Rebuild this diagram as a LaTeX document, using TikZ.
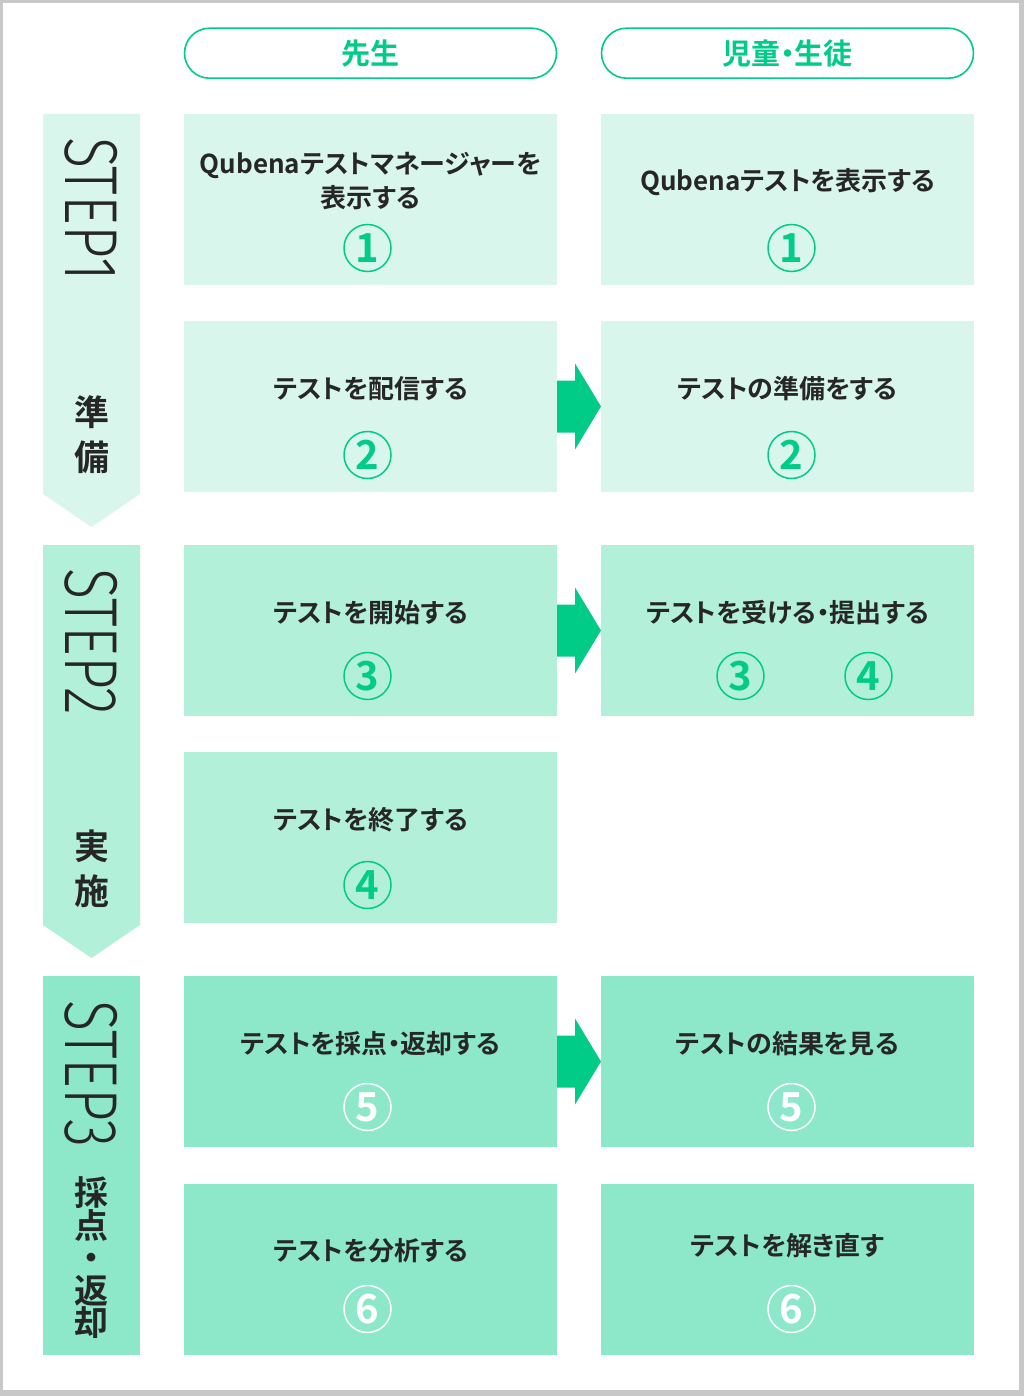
\documentclass[tikz,border=0pt]{standalone}
\usepackage{fontspec}
\usetikzlibrary{positioning}
\newfontfamily\jpfont{Noto Sans CJK JP}[UprightFont=* Bold, RawFeature=+palt]
\newfontfamily\stepfont{Fira Sans Light}
\definecolor{mint}{HTML}{00CC88}
\definecolor{tone1}{HTML}{D9F6EC}
\definecolor{tone2}{HTML}{B3F0DA}
\definecolor{tone3}{HTML}{8DE8C9}
\definecolor{ink}{HTML}{262626}
\definecolor{framegray}{HTML}{C8C8C8}
\tikzstyle{flow} = [
    fill=mint
]

\begin{document}
\begin{tikzpicture}[
    x=1pt, y=-1pt,
    box/.style={
        rectangle,
        minimum width=373pt,
        minimum height=171pt,
        inner sep=0pt,
        outer sep=0pt
    },
    head/.style={
        rectangle,
        rounded corners=25pt,
        draw=mint,
        line width=1.6pt,
        fill=white,
        minimum width=372pt,
        minimum height=50pt,
        text=mint,
        font=\jpfont\fontsize{29}{29}\selectfont
    },
    title/.style={align=center, text=ink, font=\jpfont\fontsize{26}{34}\selectfont},
    num/.style={
        circle,
        draw=#1,
        text=#1,
        line width=1.5pt,
        minimum size=47pt,
        inner sep=0pt,
        font=\jpfont\fontsize{40}{40}\selectfont
    },
    num/.default=mint,
    steplabel/.style={rotate=-90, anchor=west, inner sep=0pt, text=ink, font=\stepfont\fontsize{75}{75}\selectfont},
    stepname/.style={align=center, inner sep=0pt, text=ink, font=\jpfont\fontsize{35}{45}\selectfont}
]
\useasboundingbox (0,0) rectangle (1024,1396);
\fill[framegray] (0,0) rectangle (1024,1396);
\fill[white] (3,3) rectangle (1019,1390);

% Step bars
\fill[tone1] (43,114) -- (140,114) -- (140,494) -- (91.5,527) -- (43,494) -- cycle;
\fill[tone2] (43,545) -- (140,545) -- (140,925) -- (91.5,958) -- (43,925) -- cycle;
\fill[tone3] (43,976) rectangle (140,1355);
\node[steplabel] (step1) at (91.5,137) {\scalebox{0.77}[1]{STEP1}};
\node[steplabel] (step2) at (91.5,568) {\scalebox{0.77}[1]{STEP2}};
\node[steplabel] (step3) at (91.5,1000) {\scalebox{0.77}[1]{STEP3}};
\node[stepname] (prep) at (91.5,434.5) {準\\備};
\node[stepname] (run) at (91.5,868.5) {実\\施};
\node[stepname, font=\jpfont\fontsize{34}{32.5}\selectfont] (mark) at (91.5,1258) {採\\点\\・\\返\\却};

% Teacher column
\node[box, fill=tone1] (teach1) at (370.5,199.5) {};
\node[box, fill=tone1, below=36pt of teach1] (teach2) {};
\node[box, fill=tone2, below=53pt of teach2] (teach3) {};
\node[box, fill=tone2, below=36pt of teach3] (teach4) {};
\node[box, fill=tone3, below=53pt of teach4] (teach5) {};
\node[box, fill=tone3, below=37pt of teach5] (teach6) {};

% Pupil column
\node[box, fill=tone1, right=44pt of teach1] (pupil1) {};
\node[box, fill=tone1, right=44pt of teach2] (pupil2) {};
\node[box, fill=tone2, right=44pt of teach3] (pupil3) {};
\node[box, fill=tone3, right=44pt of teach5] (pupil5) {};
\node[box, fill=tone3, right=44pt of teach6] (pupil6) {};

% Headers
\node[head, above=35pt of teach1] (hteach) {先生};
\node[head, above=35pt of pupil1] (hpupil) {児童・生徒};

% Titles
\node[title] at ([yshift=-67pt]teach1.north) {Qubenaテストマネージャーを\\表示する};
\node[title] at ([yshift=-68pt]teach2.north) {テストを配信する};
\node[title] at ([yshift=-68pt]teach3.north) {テストを開始する};
\node[title] at ([yshift=-68pt]teach4.north) {テストを終了する};
\node[title] at ([yshift=-68pt]teach5.north) {テストを採点・返却する};
\node[title] at ([yshift=-67pt]teach6.north) {テストを分析する};
\node[title] at ([yshift=-68pt]pupil1.north) {Qubenaテストを表示する};
\node[title] at ([yshift=-68pt]pupil2.north) {テストの準備をする};
\node[title] at ([yshift=-68pt]pupil3.north) {テストを受ける・提出する};
\node[title] at ([yshift=-68pt]pupil5.north) {テストの結果を見る};
\node[title] at ([yshift=-62pt]pupil6.north) {テストを解き直す};

% Numbers
\node[num] (n1t) at ([xshift=-3pt, yshift=-134pt]teach1.north) {1};
\node[num] (n2t) at ([xshift=-3pt, yshift=-134pt]teach2.north) {2};
\node[num] (n3t) at ([xshift=-3pt, yshift=-131pt]teach3.north) {3};
\node[num] (n4t) at ([xshift=-3pt, yshift=-133pt]teach4.north) {4};
\node[num=white] (n5t) at ([xshift=-3pt, yshift=-131pt]teach5.north) {5};
\node[num=white] (n6t) at ([xshift=-3pt, yshift=-125pt]teach6.north) {6};
\node[num] (n1p) at ([xshift=4pt, yshift=-134pt]pupil1.north) {1};
\node[num] (n2p) at ([xshift=4pt, yshift=-134pt]pupil2.north) {2};
\node[num] (n3p) at ([xshift=-47pt, yshift=-131pt]pupil3.north) {3};
\node[num] (n4p) at ([xshift=81pt, yshift=-131pt]pupil3.north) {4};
\node[num=white] (n5p) at ([xshift=4pt, yshift=-131pt]pupil5.north) {5};
\node[num=white] (n6p) at ([xshift=4pt, yshift=-125pt]pupil6.north) {6};

% Arrows (teacher -> pupil)
\foreach \a/\b in {teach2/pupil2, teach3/pupil3, teach5/pupil5}
    \fill[flow] (\a.east) ++(0,-26) -- ++(18,0) -- ++(0,-17) -- (\b.west)
        -- ++(-26,43) -- ++(0,-17) -- ++(-18,0) -- cycle;

\end{tikzpicture}
\end{document}
